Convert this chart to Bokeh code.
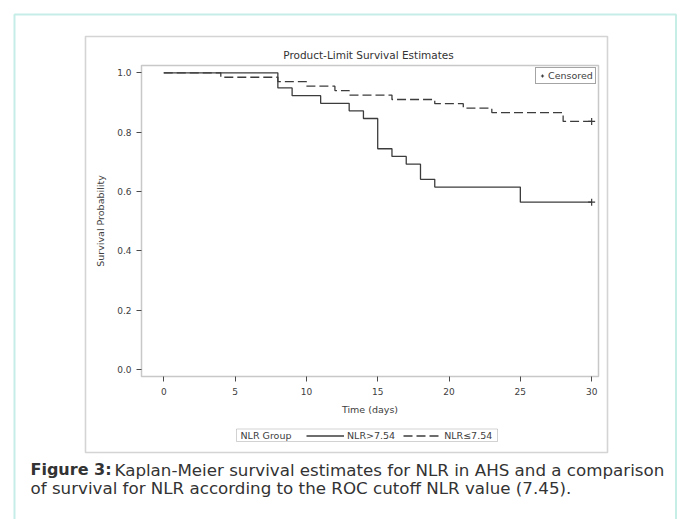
from bokeh.plotting import figure
from bokeh.models import (Range1d, BoxAnnotation, Label, Legend, LegendItem,
                          FixedTicker, PrintfTickFormatter)
from bokeh.embed import file_html
from bokeh.resources import INLINE

# ---- data ----
time_high = [0, 8, 9, 11, 13, 14, 15, 16, 17, 18, 19, 25, 30]
surv_high = [1.0, 0.949, 0.923, 0.897, 0.872, 0.846, 0.744, 0.718, 0.692, 0.641, 0.615, 0.564, 0.564]
time_low = [0, 4, 8, 10, 12, 13, 16, 19, 21, 23, 28, 30]
surv_low = [1.0, 0.985, 0.970, 0.955, 0.940, 0.925, 0.910, 0.896, 0.881, 0.866, 0.836, 0.836]
censor_time = [30, 30]
censor_surv = [0.564, 0.836]
x_ticks = [0, 5, 10, 15, 20, 25, 30]
y_ticks = [0.0, 0.2, 0.4, 0.6, 0.8, 1.0]
group_labels = ["NLR>7.54", "NLR\u22647.54"]
legend_title = "NLR Group"
censor_label = "Censored"
chart_title = "Product-Limit Survival Estimates"
x_label = "Time (days)"
y_label = "Survival Probability"
caption_bold = "Figure 3:"
caption_line1 = "Kaplan-Meier survival estimates for NLR in AHS and a comparison"
caption_line2 = "of survival for NLR according to the ROC cutoff NLR value (7.45)."

FONT = "DejaVu Sans"
INK = "#3c3c3c"
TXT = "#404040"

W, H = 681, 519
# plot area (in canvas px) and its data extent
FL, FR, FT, FB = 141, 598, 65, 376
X0, X1 = -1.56, 30.48
Y0, Y1 = -0.0236, 1.0246
sx = (FR - FL) / (X1 - X0)
sy = (FB - FT) / (Y1 - Y0)
xr = Range1d(X0 - FL / sx, X1 + (W - FR) / sx)
yr = Range1d(Y0 - (H - FB) / sy, Y1 + FT / sy)

p = figure(width=W, height=H, output_backend="svg", toolbar_location=None,
           x_range=xr, y_range=yr,
           min_border=0, min_border_left=0, min_border_right=0,
           min_border_top=0, min_border_bottom=0,
           background_fill_color="white", border_fill_color="white")
p.xgrid.visible = False
p.ygrid.visible = False
p.outline_line_color = None

p.xaxis.fixed_location = Y0
p.yaxis.fixed_location = X0
p.xaxis.bounds = (X0, X1)
p.yaxis.bounds = (Y0, Y1)

for ax in (p.xaxis[0], p.yaxis[0]):
    ax.axis_line_color = None
    ax.major_tick_line_color = "#4a4a4a"
    ax.major_tick_line_width = 1
    ax.major_tick_out = 5
    ax.major_tick_in = 0
    ax.minor_tick_line_color = None
    ax.major_label_text_font = FONT
    ax.major_label_text_font_size = "9px"
    ax.major_label_text_color = TXT
    ax.axis_label_text_font = FONT
    ax.axis_label_text_font_size = "9.5px"
    ax.axis_label_text_font_style = "normal"
    ax.axis_label_text_color = TXT

p.xaxis.ticker = FixedTicker(ticks=x_ticks)
p.yaxis.ticker = FixedTicker(ticks=y_ticks)
p.yaxis.formatter = PrintfTickFormatter(format="%.1f")
p.xaxis.axis_label = x_label
p.yaxis.axis_label = y_label
p.xaxis.major_label_standoff = 6
p.yaxis.major_label_standoff = 5
p.xaxis.axis_label_standoff = 6
p.yaxis.axis_label_standoff = 8

# outer frames (teal page border, grey figure box)
canvas_box = dict(left_units="canvas", right_units="canvas",
                  top_units="canvas", bottom_units="canvas", fill_color=None)
p.add_layout(BoxAnnotation(left=14, right=675.5, top=14, bottom=560,
                           line_color="#45c4ae", line_width=2, **canvas_box))
p.add_layout(BoxAnnotation(left=85, right=607, top=36, bottom=452,
                           line_color="#707070", line_width=1.6, **canvas_box))

# plot-area outline
p.add_layout(BoxAnnotation(left=X0, right=X1, bottom=Y0, top=Y1,
                           fill_color=None, line_color="#4a4a4a", line_width=1.5))

r_high = p.step(time_high, surv_high, mode="after", line_color=INK, line_width=1.3)
r_low = p.step(time_low, surv_low, mode="after", line_color=INK, line_width=1.3,
               line_dash="9 4")
r_cens = p.scatter(censor_time, censor_surv, marker="cross", size=7,
                   line_color=INK, line_width=1.2)

# censored legend (top right of plot area)
leg_c = Legend(items=[LegendItem(label=censor_label, renderers=[r_cens])],
               location=(535, H - 84), padding=2, spacing=0, margin=0,
               glyph_width=8, glyph_height=9, label_standoff=2,
               label_height=9, label_text_font=FONT, label_text_font_size="9.5px",
               label_text_color=TXT, border_line_color="#4a4a4a",
               border_line_width=1.3, background_fill_alpha=1.0)
p.add_layout(leg_c, "center")

# group legend below the plot: box, title text, then the items
p.add_layout(BoxAnnotation(left=236, right=497, top=428.5, bottom=441,
                           line_color="#6a6a6a", line_width=1, **canvas_box))
p.add_layout(Label(x=240, y=435, x_units="canvas", y_units="canvas",
                   text=legend_title, text_baseline="middle",
                   text_font=FONT, text_font_size="9.5px", text_color=TXT))
leg_g = Legend(items=[LegendItem(label=group_labels[0], renderers=[r_high]),
                      LegendItem(label=group_labels[1], renderers=[r_low])],
               location=(306, H - 441), orientation="horizontal",
               padding=1, spacing=8, margin=0,
               glyph_width=38, glyph_height=9, label_standoff=3, label_height=9,
               label_text_font=FONT, label_text_font_size="9.5px",
               label_text_color=TXT, border_line_color=None,
               background_fill_alpha=0.0)
p.add_layout(leg_g, "center")

# title
p.add_layout(Label(x=368, y=54.5, x_units="canvas", y_units="canvas",
                   text=chart_title, text_align="center", text_baseline="middle",
                   text_font=FONT, text_font_size="10.5px", text_color="#333333"))

# caption
cap = dict(x_units="canvas", y_units="canvas", text_baseline="middle",
           text_font=FONT, text_color="#333333")
p.add_layout(Label(x=30, y=469, text=caption_bold, text_font_style="bold",
                   text_font_size="16px", **cap))
p.add_layout(Label(x=114, y=469, text=caption_line1, text_font_size="16.7px", **cap))
p.add_layout(Label(x=30, y=487, text=caption_line2, text_font_size="16.7px", **cap))

open("out.html", "w").write(file_html(p, INLINE))
